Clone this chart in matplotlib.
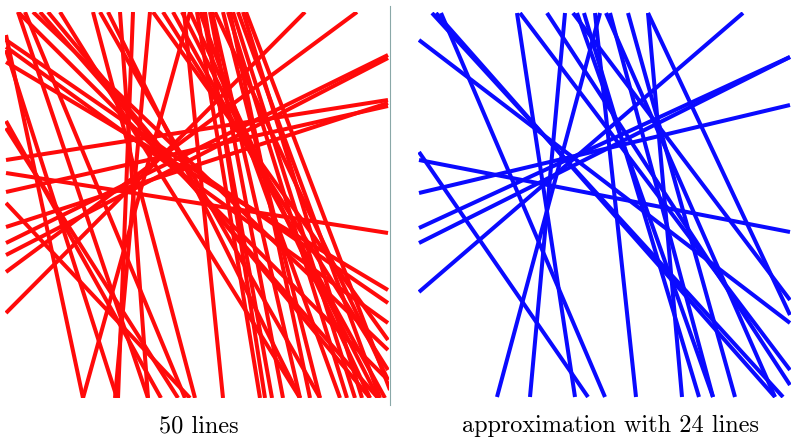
import matplotlib
matplotlib.use("Agg")
import matplotlib.pyplot as plt

# line segments, in pixel units of the original picture: x0, y0, x1, y1
red_x0 = [6, 6, 6, 6, 6, 6, 6, 6,
          6, 6, 6, 6, 6, 18, 25,
          6, 6, 33, 48, 40,
          93, 100, 108, 120, 133, 190, 150, 184,
          203, 197, 210, 205,
          212, 223, 228, 233, 243, 190, 182, 173, 163, 153, 246, 215, 200, 230,
          238, 6, 18, 60]
red_y0 = [313, 272, 243, 255, 227, 192, 173, 160,
          35, 50, 121, 128, 203, 12, 12,
          40, 47, 12, 12, 12,
          12, 12, 12, 12, 12, 12, 12, 12,
          12, 12, 12, 12,
          12, 12, 12, 12, 12, 12, 12, 12, 12, 12, 12, 12, 12, 12,
          12, 62, 12, 12]
red_x1 = [305, 357, 388, 388, 388, 388, 388, 388,
          83, 117, 161, 178, 190, 148, 185,
          388, 388, 388, 370, 378,
          195, 320, 300, 148, 118, 83, 115, 223,
          272, 260, 283, 265,
          300, 320, 347, 355, 362, 370, 378, 385, 388, 388, 390, 388, 340, 310,
          380, 388, 388, 300]
red_y1 = [12, 12, 55, 58, 103, 106, 233, 100,
          398, 398, 398, 398, 398, 398, 398,
          303, 323, 350, 398, 398,
          398, 398, 398, 398, 398, 398, 398, 398,
          398, 398, 398, 398,
          398, 398, 398, 398, 398, 398, 398, 398, 370, 340, 390, 380, 398, 398,
          398, 290, 380, 398]

blue_x0 = [743, 790, 790, 790, 419, 419, 441, 517, 565, 648,
           648, 628, 432, 419, 600, 595, 584, 577, 520, 547,
           606, 610, 436, 573]
blue_y0 = [13, 57, 57, 105, 160, 152, 13, 13, 13, 13,
           13, 13, 13, 40, 13, 13, 13, 13, 13, 13,
           13, 13, 13, 13]
blue_x1 = [419, 419, 419, 419, 790, 588, 605, 575, 530, 790,
           682, 735, 783, 790, 497, 636, 699, 713, 790, 790,
           775, 713, 775, 790]
blue_y1 = [292, 228, 243, 193, 232, 397, 397, 397, 397, 315,
           397, 397, 397, 323, 397, 397, 397, 397, 370, 385,
           397, 397, 397, 300]

W, H = 793, 442
fig = plt.figure(figsize=(W / 100, H / 100), dpi=100)
fig.patch.set_facecolor("white")


def panel(box, xs0, ys0, xs1, ys1, color):
    x0, y0, x1, y1 = box
    ax = fig.add_axes([x0 / W, 1 - y1 / H, (x1 - x0) / W, (y1 - y0) / H])
    for a, b, c, d in zip(xs0, ys0, xs1, ys1):
        ax.plot([a, c], [b, d], color=color, lw=2.9, solid_capstyle="butt")
    ax.set_xlim(x0, x1)
    ax.set_ylim(y1, y0)
    ax.axis("off")
    return ax


panel((5, 12, 389, 398), red_x0, red_y0, red_x1, red_y1, "#ff0a0a")
panel((418, 12, 791, 398), blue_x0, blue_y0, blue_x1, blue_y1, "#0a0aff")

# thin separator at the right edge of the red picture
fig.add_artist(plt.Line2D([389.5 / W, 389.5 / W], [1 - 405 / H, 1 - 6 / H],
                          color="#8aa8a8", lw=0.8))

fig.text(199 / W, 1 - 426 / H, "50 lines", ha="center", va="center",
         fontsize=17.5, family="cmr10")
fig.text(611 / W, 1 - 426 / H, "approximation with 24 lines", ha="center",
         va="center", fontsize=17.5, family="cmr10")

fig.savefig("out.png", dpi=100)
